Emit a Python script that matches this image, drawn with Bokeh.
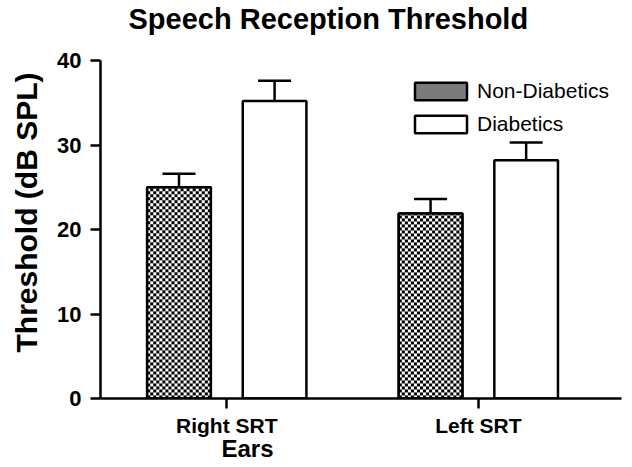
import numpy as np

from bokeh.embed import file_html
from bokeh.models import (ColumnDataSource, FixedTicker, Legend, LegendItem, Range1d,
                          TeeHead, Title, Whisker)
from bokeh.plotting import figure
from bokeh.resources import INLINE

# ---- data ----
categories = ["Right SRT", "Left SRT"]
series_names = ["Non-Diabetics", "Diabetics"]
non_diabetics = [25.0, 21.9]
non_diabetics_err = [1.6, 1.7]
diabetics = [35.2, 28.2]
diabetics_err = [2.4, 2.1]
y_ticks = [0, 10, 20, 30, 40]
title_text = "Speech Reception Threshold"
x_label = "Ears"
y_label = "Threshold (dB SPL)"

FONT = "Liberation Sans"

# ---- layout ----
W, H = 632, 467
B_LEFT, B_RIGHT, B_TOP, B_BOTTOM = 97, 11, 36, 69
AXIS_TOP_PX = 60          # pixel row where the value axis ends (y = 40)
X0, X1 = -0.502, 1.569
Y0, Y1 = 0, 40
frame_h = H - B_TOP - B_BOTTOM
px_x = (W - B_LEFT - B_RIGHT) / (X1 - X0)
px_y = (H - B_BOTTOM - AXIS_TOP_PX) / (Y1 - Y0)
Y1_VIEW = Y0 + frame_h / px_y

idx = list(range(len(categories)))
offset = 0.19
bar_w = 0.253

src_nd = ColumnDataSource(dict(
    x=[i - offset for i in idx], top=non_diabetics,
    upper=[v + e for v, e in zip(non_diabetics, non_diabetics_err)]))
src_d = ColumnDataSource(dict(
    x=[i + offset for i in idx], top=diabetics,
    upper=[v + e for v, e in zip(diabetics, diabetics_err)]))


def checker_image(w_px, h_px, cell=3):
    yy, xx = np.mgrid[0:h_px, 0:w_px]
    black = ((yy // cell) + (xx // cell)) % 2 == 0
    img = np.empty((h_px, w_px, 4), dtype=np.uint8)
    img[..., :3] = np.where(black, 0, 255)[..., None]
    img[..., 3] = 255
    return img.view(dtype=np.uint32).reshape((h_px, w_px))


p = figure(width=W, height=H, output_backend="svg", toolbar_location=None,
           x_range=Range1d(X0, X1), y_range=Range1d(Y0, Y1_VIEW),
           min_border_left=B_LEFT, min_border_right=B_RIGHT,
           min_border_top=B_TOP, min_border_bottom=B_BOTTOM)

p.outline_line_color = None
p.xgrid.visible = False
p.ygrid.visible = False
p.background_fill_color = "white"
p.border_fill_color = "white"

# Non-diabetics: grey base (used by the legend), checkerboard image, outline on top
r_nd = p.vbar(x="x", top="top", bottom=0, width=bar_w, source=src_nd,
              fill_color="#7a7a7a", line_color="black", line_width=2.5)
imgs = [checker_image(int(round(bar_w * px_x)), int(round(v * px_y))) for v in non_diabetics]
p.image_rgba(image=imgs, x=[i - offset - bar_w / 2 for i in idx], y=[0] * len(idx),
             dw=[bar_w] * len(idx), dh=non_diabetics)
p.vbar(x="x", top="top", bottom=0, width=bar_w, source=src_nd,
       fill_alpha=0, line_color="black", line_width=2.5)

r_d = p.vbar(x="x", top="top", bottom=0, width=bar_w, source=src_d,
             fill_color="white", line_color="black", line_width=2.5)

for src in (src_nd, src_d):
    w = Whisker(source=src, base="x", lower="top", upper="upper", dimension="height",
                line_color="black", line_width=2.5,
                upper_head=TeeHead(size=33, line_color="black", line_width=2.5),
                lower_head=None)
    p.add_layout(w)

# title
p.title.text = title_text
p.title.text_font = FONT
p.title.text_font_style = "bold"
p.title.text_font_size = "29px"
p.title.text_color = "black"
p.title.align = "left"
p.title.offset = 28
p.title.vertical_align = "top"
p.title.standoff = 0

# x axis
xa = p.xaxis[0]
xa.ticker = FixedTicker(ticks=idx)
xa.major_label_overrides = {i: c for i, c in zip(idx, categories)}
xa.minor_tick_line_color = None
xa.major_tick_in = 0
xa.major_tick_out = 10
xa.major_tick_line_width = 2.5
xa.axis_line_width = 2.5
xa.major_label_standoff = 5
xa.major_label_text_font = FONT
xa.major_label_text_font_style = "bold"
xa.major_label_text_font_size = "21px"
xa.major_label_text_color = "black"

# y axis
ya = p.yaxis[0]
ya.ticker = FixedTicker(ticks=y_ticks)
ya.bounds = (Y0, Y1)
ya.minor_tick_line_color = None
ya.major_tick_in = 0
ya.major_tick_out = 10
ya.major_tick_line_width = 2.5
ya.axis_line_width = 2.5
ya.major_label_standoff = 9
ya.major_label_text_font = FONT
ya.major_label_text_font_style = "bold"
ya.major_label_text_font_size = "22px"
ya.major_label_text_color = "black"

# axis titles as side-panel titles (allow off-centre placement)
p.add_layout(Title(text=y_label, align="left", offset=46, vertical_align="top", standoff=19,
                   text_font=FONT, text_font_style="bold", text_font_size="30px",
                   text_color="black"), "left")
p.add_layout(Title(text=x_label, align="left", offset=121, vertical_align="top", standoff=-10,
                   text_font=FONT, text_font_style="bold", text_font_size="24px",
                   text_color="black"), "below")

legend = Legend(items=[LegendItem(label=series_names[0], renderers=[r_nd]),
                       LegendItem(label=series_names[1], renderers=[r_d])],
                location=(308, 262), orientation="vertical",
                padding=0, margin=0, spacing=9,
                glyph_width=65, glyph_height=22, label_height=24, label_standoff=4,
                label_text_font=FONT, label_text_font_size="21px", label_text_color="black",
                border_line_color=None, background_fill_alpha=0)
p.add_layout(legend, "center")

open("out.html", "w").write(file_html(p, INLINE))
